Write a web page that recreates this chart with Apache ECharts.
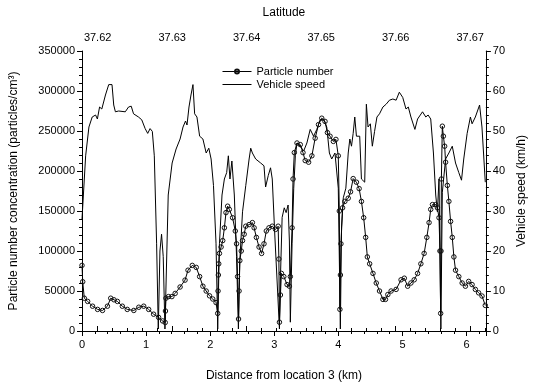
<!DOCTYPE html>
<html style="height: 100%">

<head>
	<meta charset="utf-8">
</head>

<body style="height: 100%; margin: 0; background: #fff">
	<div id="container" style="width: 536px; height: 387px"></div>
	<script type="text/javascript" src="https://cdn.jsdelivr.net/npm/echarts@6/dist/echarts.min.js"></script>
	<script type="text/javascript">
		// distance along route (km) and vehicle speed (km/h)
		let speedDist = [0.0, 0.057, 0.108, 0.159, 0.212, 0.24, 0.274, 0.309, 0.366, 0.417, 0.468, 0.495, 0.521, 0.572, 0.675, 0.726, 0.768, 0.804, 0.881, 0.932, 0.985, 1.025, 1.062, 1.097, 1.128, 1.164, 1.19, 1.216, 1.241, 1.267, 1.294, 1.345, 1.406, 1.468, 1.53, 1.576, 1.615, 1.638, 1.669, 1.7, 1.731, 1.757, 1.793, 1.835, 1.886, 1.937, 1.978, 2.014, 2.051, 2.091, 2.117, 2.144, 2.184, 2.221, 2.257, 2.283, 2.308, 2.338, 2.376, 2.411, 2.44, 2.462, 2.504, 2.555, 2.607, 2.632, 2.658, 2.709, 2.787, 2.839, 2.864, 2.906, 2.941, 2.968, 3.009, 3.045, 3.08, 3.096, 3.122, 3.155, 3.184, 3.215, 3.235, 3.25, 3.277, 3.303, 3.328, 3.354, 3.405, 3.458, 3.508, 3.56, 3.612, 3.663, 3.714, 3.767, 3.818, 3.859, 3.895, 3.946, 3.998, 4.03, 4.049, 4.076, 4.116, 4.153, 4.178, 4.204, 4.23, 4.255, 4.281, 4.332, 4.359, 4.41, 4.436, 4.462, 4.498, 4.529, 4.564, 4.601, 4.641, 4.694, 4.745, 4.796, 4.849, 4.9, 4.95, 5.003, 5.054, 5.09, 5.131, 5.193, 5.235, 5.312, 5.363, 5.399, 5.44, 5.482, 5.518, 5.544, 5.569, 5.598, 5.621, 5.672, 5.723, 5.776, 5.827, 5.878, 5.92, 5.955, 6.008, 6.059, 6.085, 6.136, 6.202, 6.239, 6.291];
		let speedKmh = [28, 43.8, 51, 53.5, 54, 53, 56, 55.5, 59, 61.6, 61.6, 56.5, 54.8, 55, 54.8, 56, 56.2, 54.3, 53.5, 52.8, 50.6, 49.4, 50.6, 49.9, 43.8, 21.8, 0.5, 20, 24.2, 18.6, 0.5, 34, 42, 45.5, 48, 51, 52.5, 51.5, 56, 59, 61.6, 54.3, 53.5, 48.7, 48, 44.5, 45.7, 43, 36.4, 21.8, 0.5, 21.8, 34, 38, 39.6, 43.8, 38, 42.5, 34, 18.6, 0.5, 17.6, 29.8, 36.4, 43, 45.7, 44.5, 43, 42, 41.3, 36, 38.9, 40.8, 38, 23.5, 12, 0.5, 13.7, 28.4, 30.8, 29.6, 31.5, 22.5, 2.2, 21.8, 35.7, 43.8, 47, 46.2, 45, 47, 50.4, 48.7, 50.4, 52.8, 53, 51, 44.5, 43, 44.5, 35.7, 0.5, 26, 33.3, 35.7, 44.5, 48, 46.2, 49.4, 53.5, 48.7, 48.7, 38, 37.2, 56.7, 51, 51.8, 46.2, 49.9, 53.5, 54.3, 56, 56.7, 57.7, 58, 57.7, 59.7, 58.4, 55.5, 56, 53.5, 50.4, 53, 54.8, 53.5, 54, 53, 44.5, 34, 29.8, 38, 0.5, 34.7, 43, 44.5, 46.2, 42, 39.6, 37.7, 43, 49.4, 53.5, 51.8, 53.5, 56.5, 51, 37.2];

		// distance along route (km) and particle number concentration (particles/cm3)
		let pnDist = [0.0, 0.011, 0.036, 0.088, 0.165, 0.243, 0.32, 0.397, 0.448, 0.499, 0.552, 0.629, 0.706, 0.808, 0.886, 0.963, 1.04, 1.117, 1.195, 1.257, 1.298, 1.302, 1.309, 1.349, 1.402, 1.453, 1.53, 1.607, 1.654, 1.72, 1.782, 1.835, 1.886, 1.937, 1.989, 2.04, 2.091, 2.117, 2.122, 2.127, 2.133, 2.144, 2.17, 2.195, 2.221, 2.246, 2.272, 2.298, 2.349, 2.391, 2.411, 2.427, 2.442, 2.45, 2.462, 2.484, 2.504, 2.53, 2.555, 2.607, 2.658, 2.685, 2.72, 2.762, 2.802, 2.839, 2.875, 2.917, 2.968, 3.019, 3.06, 3.071, 3.08, 3.095, 3.111, 3.148, 3.199, 3.235, 3.25, 3.277, 3.292, 3.312, 3.354, 3.405, 3.447, 3.482, 3.535, 3.586, 3.637, 3.689, 3.74, 3.791, 3.828, 3.869, 3.921, 3.961, 3.998, 4.014, 4.023, 4.031, 4.039, 4.065, 4.1, 4.153, 4.189, 4.23, 4.281, 4.323, 4.359, 4.394, 4.425, 4.451, 4.487, 4.539, 4.59, 4.641, 4.694, 4.734, 4.771, 4.822, 4.9, 4.977, 5.028, 5.08, 5.131, 5.182, 5.235, 5.286, 5.337, 5.379, 5.414, 5.44, 5.467, 5.518, 5.544, 5.569, 5.584, 5.595, 5.6, 5.606, 5.621, 5.637, 5.657, 5.672, 5.699, 5.723, 5.75, 5.776, 5.801, 5.827, 5.878, 5.93, 5.981, 6.032, 6.085, 6.136, 6.187, 6.24, 6.291];
		let pnConc = [82000, 61600, 41000, 37000, 31000, 27000, 25700, 31000, 41000, 39000, 37000, 31000, 27000, 25700, 29700, 31000, 27000, 21000, 17000, 12600, 10600, 25000, 41000, 43000, 43000, 47000, 55000, 63600, 76000, 82000, 79500, 68000, 56000, 50000, 44000, 40000, 35500, 22000, 50000, 70000, 84000, 97000, 105000, 113000, 129000, 148000, 156000, 152000, 141600, 125000, 109000, 68000, 15000, 50000, 88000, 100000, 113000, 121000, 131000, 133000, 135500, 129000, 117000, 105000, 97000, 109000, 125000, 129000, 131000, 127000, 131000, 90000, 11000, 45000, 72000, 68000, 58000, 56000, 68000, 129000, 190000, 223000, 235000, 233000, 223000, 213000, 211000, 219000, 241000, 258000, 266000, 262000, 248000, 243500, 237000, 239500, 219000, 150000, 27000, 70000, 109000, 154000, 162000, 166000, 174000, 190500, 186000, 178000, 162000, 141600, 117000, 92600, 84000, 72000, 60000, 50000, 39500, 39500, 45600, 50000, 52000, 64000, 66000, 56000, 60000, 64000, 72000, 84000, 97000, 117000, 135500, 152000, 158000, 158000, 154000, 141600, 100000, 22000, 100000, 190000, 256000, 243500, 231000, 211000, 182000, 162000, 137000, 117000, 92600, 76000, 68000, 60000, 56000, 62000, 58000, 52000, 47700, 43700, 32000];

		let dom = document.getElementById("container");
		let myChart = echarts.init(dom);

		let speedData = speedDist.map(function (d, i) { return [d, speedKmh[i]]; });
		let pnData = pnDist.map(function (d, i) { return [d, pnConc[i]]; });

		let fontName = 'Liberation Sans';
		let axisCommon = {
			axisLine: { lineStyle: { color: '#000', width: 1 } },
			axisTick: { length: 5, lineStyle: { color: '#000' } },
			minorTick: { show: true, splitNumber: 5, length: 3, lineStyle: { color: '#000' } },
			splitLine: { show: false },
			axisLabel: { color: '#000', fontFamily: fontName, fontSize: 11 },
			nameTextStyle: { color: '#000', fontFamily: fontName, fontSize: 12 }
		};
		let plain = function (v) { return String(v); };

		let option = {
			animation: false,
			backgroundColor: '#fff',
			textStyle: { fontFamily: fontName },
			grid: { left: 81, right: 47, top: 51, bottom: 50 },
			legend: {
				orient: 'vertical',
				left: 222,
				top: 66,
				padding: 0,
				itemWidth: 29,
				itemHeight: 5,
				itemGap: 2,
				textStyle: { color: '#000', fontFamily: fontName, fontSize: 11 },
				data: [
					{ name: 'Particle number', lineStyle: { width: 1 } },
					{ name: 'Vehicle speed', lineStyle: { width: 1 }, itemStyle: { opacity: 0 } }
				]
			},
			xAxis: [
				Object.assign({}, axisCommon, {
					type: 'value',
					position: 'bottom',
					min: 0,
					max: 6.3,
					interval: 1,
					name: 'Distance from location 3 (km)',
					nameLocation: 'middle',
					nameGap: 39,
					axisLabel: Object.assign({}, axisCommon.axisLabel, { margin: 8, showMaxLabel: false, formatter: plain })
				}),
				Object.assign({}, axisCommon, {
					type: 'value',
					position: 'top',
					min: 37.6179,
					max: 37.6721,
					name: 'Latitude',
					nameLocation: 'middle',
					nameGap: 32,
					axisLabel: Object.assign({}, axisCommon.axisLabel, {
						margin: 8,
						showMinLabel: false,
						showMaxLabel: false,
						formatter: function (v) { return v.toFixed(2); }
					})
				})
			],
			yAxis: [
				Object.assign({}, axisCommon, {
					type: 'value',
					min: 0,
					max: 350000,
					interval: 50000,
					name: 'Particle number concentration (particles/cm³)',
					nameLocation: 'middle',
					nameGap: 62,
					axisLabel: Object.assign({}, axisCommon.axisLabel, { margin: 7, formatter: plain })
				}),
				Object.assign({}, axisCommon, {
					type: 'value',
					position: 'right',
					min: 0,
					max: 70,
					interval: 10,
					name: 'Vehicle speed (km/h)',
					nameLocation: 'middle',
					nameGap: 28,
					axisLabel: Object.assign({}, axisCommon.axisLabel, { margin: 7, formatter: plain })
				})
			],
			series: [
				{
					name: 'Particle number',
					type: 'line',
					xAxisIndex: 0,
					yAxisIndex: 0,
					data: pnData,
					symbol: 'circle',
					symbolSize: 4.5,
					lineStyle: { color: '#000', width: 1 },
					itemStyle: { color: 'rgba(255,255,255,0)', borderColor: '#111', borderWidth: 1 },
					z: 3
				},
				{
					name: 'Vehicle speed',
					type: 'line',
					xAxisIndex: 0,
					yAxisIndex: 1,
					data: speedData,
					symbol: 'none',
					lineStyle: { color: '#000', width: 1 },
					itemStyle: { color: '#000' },
					z: 2
				}
			]
		};

		myChart.setOption(option);
	</script>
</body>
</html>
